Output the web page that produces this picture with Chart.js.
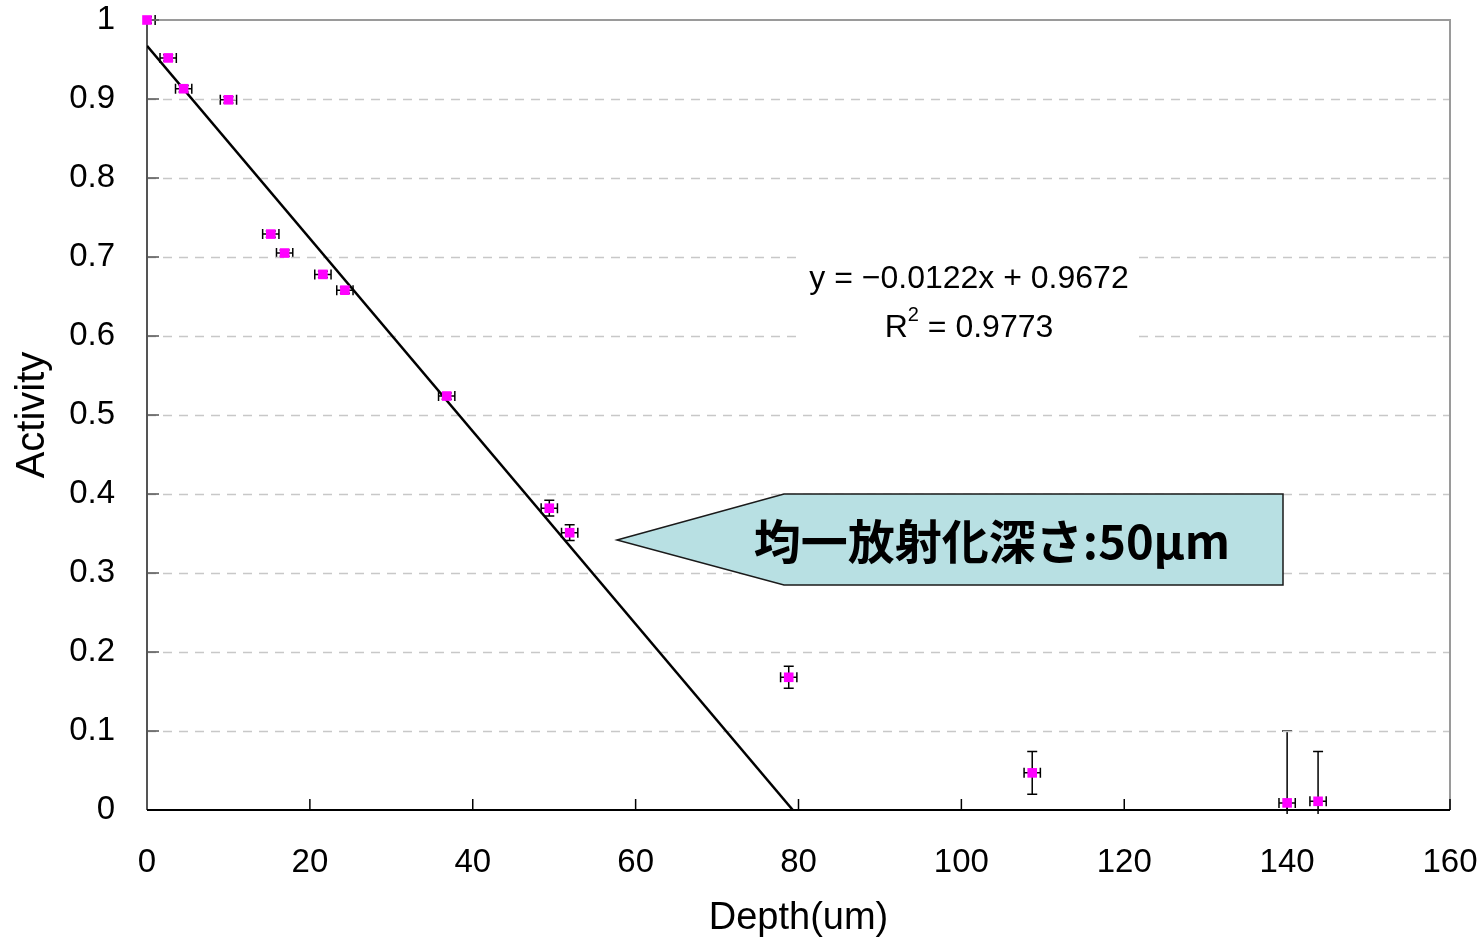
<!DOCTYPE html>
<html>
<head>
<meta charset="utf-8">
<script src="https://cdn.jsdelivr.net/npm/chart.js@4.4.0/dist/chart.umd.min.js"></script>
<style>
  html, body { margin: 0; padding: 0; background: #fff; }
  #wrap { width: 1484px; height: 942px; position: relative; }
</style>
</head>
<body>
<div id="wrap"><canvas id="depthChart"></canvas></div>
<script>
// measured points
const depth = [0, 2.6, 4.5, 10.0, 15.2, 16.9, 21.6, 24.3, 36.8, 49.4, 51.9, 78.8, 108.7, 140.0, 143.8];
const activity = [1.0, 0.952, 0.913, 0.899, 0.729, 0.705, 0.678, 0.658, 0.524, 0.382, 0.351, 0.168, 0.047, 0.009, 0.011];
const depthErr = [1, 1, 1, 1, 1, 1, 1, 1, 1, 1, 1, 1, 1, 1, 1];
const activityErr = [0.004, 0.004, 0.004, 0.004, 0.004, 0.004, 0.004, 0.004, 0.004, 0.01, 0.01, 0.014, 0.027, 0.091, 0.063];

// linear fit line (end points)
const trendX = [0, 79.3];
const trendY = [0.9672, 0];

const yGrid = [0.1, 0.2, 0.3, 0.4, 0.5, 0.6, 0.7, 0.8, 0.9];
const xTickMarks = [20, 40, 60, 80, 100, 120, 140, 160];

const eqLines = ["y = \u22120.0122x + 0.9672", "R\u00b2 = 0.9773"];
const calloutText = "均一放射化深さ:50μm";

const numFont = "'Liberation Sans', Arial, sans-serif";

const pts = depth.map((d, i) => ({ x: d, y: activity[i] }));

const errorBars = {
  id: 'errorBars',
  beforeDatasetsDraw(chart) {
    const ctx = chart.ctx, xs = chart.scales.x, ys = chart.scales.y, a = chart.chartArea;
    ctx.save();
    ctx.beginPath();
    ctx.rect(a.left - 2, a.top - 10, a.right - a.left + 4, a.bottom - a.top + 14);
    ctx.clip();
    ctx.strokeStyle = '#000';
    ctx.lineWidth = 1.5;
    const cap = 5;
    for (let i = 0; i < depth.length; i++) {
      const px = xs.getPixelForValue(depth[i]);
      const py = ys.getPixelForValue(activity[i]);
      const x1 = xs.getPixelForValue(Math.max(0, depth[i] - depthErr[i]));
      const x2 = xs.getPixelForValue(depth[i] + depthErr[i]);
      const y1 = ys.getPixelForValue(activity[i] + activityErr[i]);
      const y2 = ys.getPixelForValue(activity[i] - activityErr[i]);
      ctx.beginPath();
      ctx.moveTo(x1, py); ctx.lineTo(x2, py);
      if (depth[i] - depthErr[i] >= 0) { ctx.moveTo(x1, py - cap); ctx.lineTo(x1, py + cap); }
      ctx.moveTo(x2, py - cap); ctx.lineTo(x2, py + cap);
      ctx.moveTo(px, y1); ctx.lineTo(px, y2);
      ctx.moveTo(px - cap, y1); ctx.lineTo(px + cap, y1);
      ctx.moveTo(px - cap, y2); ctx.lineTo(px + cap, y2);
      ctx.stroke();
    }
    ctx.restore();
  }
};

const frame = {
  id: 'frame',
  beforeDatasetsDraw(chart) {
    const ctx = chart.ctx, a = chart.chartArea, xs = chart.scales.x, ys = chart.scales.y;
    ctx.save();
    // dashed gridlines
    ctx.strokeStyle = '#c8c8c8';
    ctx.lineWidth = 1.5;
    ctx.setLineDash([9, 7]);
    yGrid.forEach(v => {
      const y = Math.round(ys.getPixelForValue(v)) + 0.5;
      ctx.beginPath(); ctx.moveTo(a.left, y); ctx.lineTo(a.right, y); ctx.stroke();
    });
    ctx.setLineDash([]);
    // top and right border
    ctx.strokeStyle = '#9a9a9a';
    ctx.lineWidth = 2;
    ctx.beginPath();
    ctx.moveTo(a.left, a.top); ctx.lineTo(a.right, a.top); ctx.lineTo(a.right, a.bottom);
    ctx.stroke();
    // left axis
    ctx.strokeStyle = '#555';
    ctx.beginPath(); ctx.moveTo(a.left, a.top); ctx.lineTo(a.left, a.bottom); ctx.stroke();
    // inside tick marks on y axis
    ctx.lineWidth = 1.5;
    yGrid.concat([1]).forEach(v => {
      const y = ys.getPixelForValue(v);
      ctx.beginPath(); ctx.moveTo(a.left, y); ctx.lineTo(a.left + 12, y); ctx.stroke();
    });
    // bottom axis + inside ticks
    ctx.strokeStyle = '#000';
    xTickMarks.forEach(v => {
      const x = xs.getPixelForValue(v);
      ctx.beginPath(); ctx.moveTo(x, a.bottom); ctx.lineTo(x, a.bottom - 11); ctx.stroke();
    });
    ctx.lineWidth = 2;
    ctx.beginPath(); ctx.moveTo(a.left, a.bottom); ctx.lineTo(a.right, a.bottom); ctx.stroke();

    // equation box (white background over gridlines)
    ctx.fillStyle = '#fff';
    ctx.fillRect(800, 250, 335, 98);
    ctx.fillStyle = '#000';
    ctx.textAlign = 'center';
    ctx.textBaseline = 'middle';
    ctx.font = "32px " + numFont;
    ctx.fillText(eqLines[0], 969, 279);
    // R^2 line with superscript
    const rText = "R", sup = "2", rest = " = 0.9773";
    const wR = ctx.measureText(rText).width, wRest = ctx.measureText(rest).width;
    ctx.font = "20px " + numFont;
    const wSup = ctx.measureText(sup).width;
    const total = wR + wSup + wRest;
    let sx = 969 - total / 2;
    ctx.textAlign = 'left';
    ctx.font = "32px " + numFont;
    ctx.fillText(rText, sx, 328);
    ctx.font = "20px " + numFont;
    ctx.fillText(sup, sx + wR, 315);
    ctx.font = "32px " + numFont;
    ctx.fillText(rest, sx + wR + wSup, 328);
    ctx.restore();
  },
  afterDraw(chart) {
    const ctx = chart.ctx;
    ctx.save();
    // callout arrow
    ctx.beginPath();
    ctx.moveTo(617, 540);
    ctx.lineTo(784, 494);
    ctx.lineTo(1283, 494);
    ctx.lineTo(1283, 585);
    ctx.lineTo(784, 585);
    ctx.closePath();
    ctx.fillStyle = '#b8e0e3';
    ctx.fill();
    ctx.strokeStyle = '#1a1a1a';
    ctx.lineWidth = 1.5;
    ctx.stroke();
    ctx.fillStyle = '#000';
    ctx.font = "bold 47px 'Noto Sans CJK JP', sans-serif";
    ctx.textAlign = 'center';
    ctx.textBaseline = 'middle';
    ctx.fillText(calloutText, 992, 541, 480);
    ctx.restore();
  }
};

new Chart(document.getElementById('depthChart'), {
  type: 'scatter',
  data: {
    datasets: [
      {
        label: 'Activity',
        data: pts,
        pointStyle: 'rect',
        pointRadius: 6.8,
        pointHoverRadius: 6.8,
        backgroundColor: '#ff00ff',
        borderColor: '#ff00ff',
        borderWidth: 0,
        clip: false,
        order: 1
      },
      {
        label: 'Trend',
        type: 'line',
        data: trendX.map((x, i) => ({ x: x, y: trendY[i] })),
        borderColor: '#000',
        borderWidth: 2.5,
        pointRadius: 0,
        fill: false,
        order: 2
      }
    ]
  },
  options: {
    responsive: true,
    maintainAspectRatio: false,
    animation: false,
    events: [],
    layout: { padding: { top: 20, right: 34, left: 0, bottom: 0 } },
    plugins: { legend: { display: false }, tooltip: { enabled: false } },
    scales: {
      x: {
        type: 'linear',
        min: 0, max: 160,
        afterFit(s) { s.height = 132; s.paddingLeft = 0; s.paddingRight = 0; },
        border: { display: false },
        grid: { display: false, drawTicks: false },
        ticks: { stepSize: 20, padding: 33, color: '#000', font: { family: numFont, size: 33 } },
        title: { display: true, text: 'Depth(um)', color: '#000', font: { family: numFont, size: 38 }, padding: { top: 0, bottom: 1 } }
      },
      y: {
        min: 0, max: 1,
        afterFit(s) { s.width = 147; s.paddingTop = 0; s.paddingBottom = 0; },
        border: { display: false },
        grid: { display: false, drawTicks: false },
        ticks: {
          stepSize: 0.1, padding: 32, color: '#000',
          font: { family: numFont, size: 33 },
          callback: (v) => Math.round(v * 10) / 10
        },
        title: { display: true, text: 'Activity', color: '#000', font: { family: numFont, size: 40 }, padding: { top: 9, bottom: 0 } }
      }
    }
  },
  plugins: [errorBars, frame]
});
</script>
</body>
</html>
